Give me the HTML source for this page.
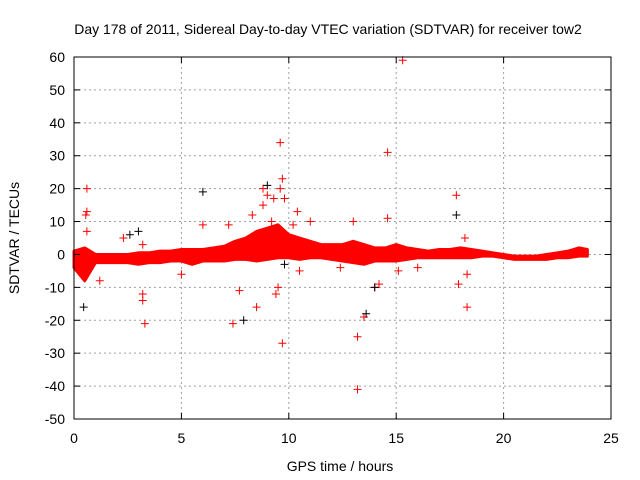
<!DOCTYPE html>
<html><head><meta charset="utf-8"><style>
body{margin:0;background:#fff;}
svg{display:block;font-family:"Liberation Sans",sans-serif;font-size:14px;}
</style></head><body>
<svg id="chart" width="640" height="480">
<g id="grid"></g>
<g id="band"></g>
<g id="pts"></g>
<g id="axes"></g>
<text x="328" y="34" text-anchor="middle">Day 178 of 2011, Sidereal Day-to-day VTEC variation (SDTVAR) for receiver tow2</text>
<text x="340" y="471" text-anchor="middle">GPS time / hours</text>
<text transform="translate(19,238) rotate(-90)" text-anchor="middle">SDTVAR / TECUs</text>
</svg>
<script>
const xTicks=[0,5,10,15,20,25];
const yTicks=[60,50,40,30,20,10,0,-10,-20,-30,-40,-50];
const bandTimes=[0,0.5,1,1.5,2,2.5,3,3.5,4,4.5,5,5.5,6,6.5,7,7.5,8,8.5,9,9.5,10,10.5,11,11.5,12,12.5,13,13.5,14,14.5,15,15.5,16,16.5,17,17.5,18,18.5,19,19.5,20,20.5,21,21.5,22,22.5,23,23.5,23.9];
const bandHigh=[1,2,0,0,0,0,0.5,0.5,1,1,1.5,1.5,1.5,2,2.5,4,5,7,8,9,6,5,4,3,3,3,4,3,2,2,3,2,1.5,1,1.5,1.5,2,1.5,1,0.5,0,-0.5,-0.5,-0.5,0,0.5,1,2,1.5];
const bandLow=[-4,-8,-2.5,-2.5,-2.5,-2.5,-3,-2.5,-2.5,-2,-2,-3,-2,-2,-2,-1.5,-1.5,-2,-1.5,-1,-1,-1.5,-1,-1,-1.5,-2,-2.5,-3,-2,-2,-2,-1.5,-1,-1,-1,-1,-1,-1,-0.5,-0.5,-1,-1.5,-1.5,-1.5,-1.5,-1,-1,-0.5,-0.5];
const redT=[0.6,0.6,0.55,0.6,1.2,2.3,3.2,3.2,3.3,3.2,5.0,7.4,7.7,8.5,8.8,9.0,9.3,9.6,9.7,9.6,9.5,9.7,9.4,9.8,10.4,10.5,11,13.2,13.2,13.5,14.0,14.2,14.6,14.6,15.3,15.1,17.8,17.9,18.3,18.3,18.2,13,12.4,16,8.3,8.8,9.2,10.2,7.2,6.0];
const redV=[20,13,12,7,-8,5,-12,-14,-21,3,-6,-21,-11,-16,20,18,17,34,23,20,-10,-27,-12,17,13,-5,10,-41,-25,-19,-10,-9,11,31,59,-5,18,-9,-16,-6,5,10,-4,-4,12,15,10,9,9,9];
const blackT=[0.45,6,7.9,2.6,13.6,9.0,14.0,9.8,17.8,3.0];
const blackV=[-16,19,-20,6,-18,21,-10,-3,12,7];
const X0=74,X1=611,Y0=419,Y1=57;
const sx=t=>X0+(t-0)/25*(X1-X0);
const sy=v=>Y0-(v+50)/110*(Y0-Y1);
const NS="http://www.w3.org/2000/svg";
function mk(tag,attrs,parent){const e=document.createElementNS(NS,tag);for(const k in attrs)e.setAttribute(k,attrs[k]);parent.appendChild(e);return e;}
const grid=document.getElementById('grid'),axes=document.getElementById('axes');
xTicks.forEach(t=>{const x=sx(t);
 if(t>0&&t<25){const l=mk('line',{x1:x,y1:Y1,x2:x,y2:Y0,stroke:'#a0a0a0','stroke-dasharray':'2,3'},grid);
 
 }
 mk('line',{x1:x,y1:Y0,x2:x,y2:Y0-6,stroke:'#000'},axes);mk('line',{x1:x,y1:Y1,x2:x,y2:Y1+6,stroke:'#000'},axes);
 const tx=mk('text',{x:x,y:Y0+24,'text-anchor':'middle'},axes);tx.textContent=t;
 
 });
yTicks.forEach(v=>{const y=sy(v);
 if(v>-50&&v<60){const l=mk('line',{x1:X0,y1:y,x2:X1,y2:y,stroke:'#a0a0a0','stroke-dasharray':'2,3'},grid);
 
 }
 mk('line',{x1:X0,y1:y,x2:X0+6,y2:y,stroke:'#000'},axes);mk('line',{x1:X1,y1:y,x2:X1-6,y2:y,stroke:'#000'},axes);
 const tx=mk('text',{x:X0-9,y:y+5,'text-anchor':'end'},axes);tx.textContent=v;
 
 });
mk('rect',{x:X0,y:Y1,width:X1-X0,height:Y0-Y1,fill:'none',stroke:'#000'},axes);
let pts=bandTimes.map((t,i)=>sx(t)+','+sy(bandHigh[i]));
pts=pts.concat(bandTimes.map((t,i)=>sx(t)+','+sy(bandLow[i])).reverse());
const band=mk('polygon',{points:pts.join(' '),fill:'#ff0000',stroke:'#ff0000','stroke-width':3,'stroke-linejoin':'round'},document.getElementById('band'));


const pg=document.getElementById('pts');
function cross(t,v,c,name){const x=sx(t),y=sy(v);
 const p=mk('path',{d:`M${x-4},${y}H${x+4}M${x},${y-4}V${y+4}`,stroke:c,'stroke-width':1},pg);
 
 }
redT.forEach((t,i)=>cross(t,redV[i],'#ff0000','red-point'));
blackT.forEach((t,i)=>cross(t,blackV[i],'#000','black-point'));
</script>
</body></html>
